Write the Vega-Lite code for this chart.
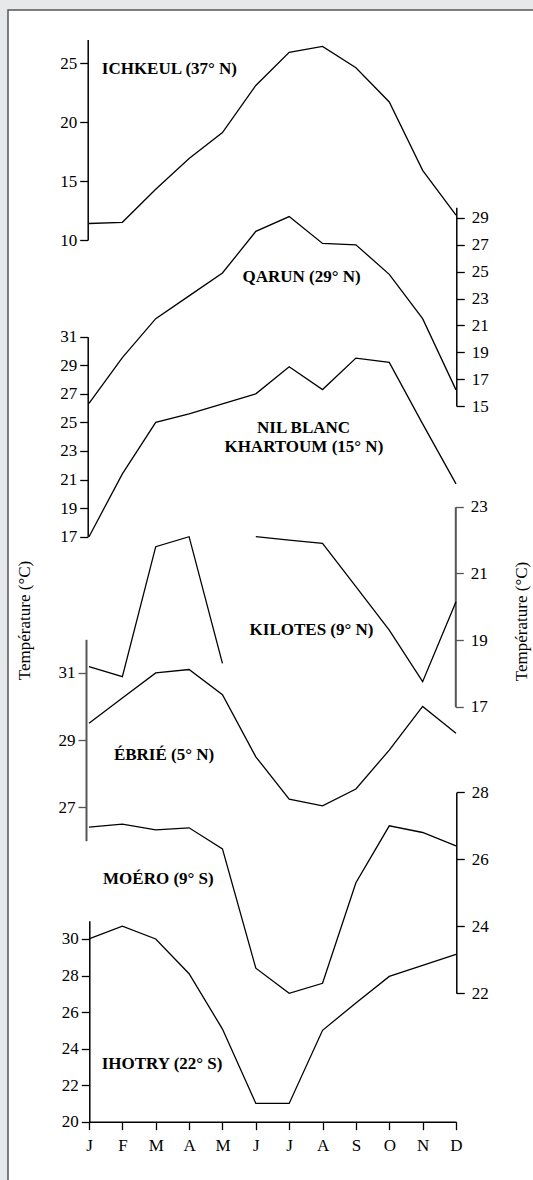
{
  "$schema": "https://vega.github.io/schema/vega-lite/v6.json",
  "width": 535,
  "height": 1180,
  "autosize": {"type": "none"},
  "padding": {"left": 8, "top": 10, "right": -10, "bottom": -10},
  "background": "#e7e8ea",
  "config": {
    "view": {"fill": "white", "stroke": "#555555", "strokeWidth": 1.5},
    "axis": {
      "labelFont": "Liberation Serif",
      "labelFontSize": 17,
      "labelColor": "black",
      "domainColor": "black",
      "tickColor": "black",
      "domainWidth": 1.5,
      "tickWidth": 1.3,
      "tickSize": 8,
      "grid": false,
      "labelPadding": 3,
      "labelOverlap": false,
      "labelFlush": false,
      "labelBound": false,
      "titleFont": "Liberation Serif",
      "titleFontSize": 17,
      "titleFontWeight": "normal",
      "titleColor": "black"
    },
    "text": {"font": "Liberation Serif", "fontSize": 17, "fontWeight": "bold", "color": "black", "baseline": "middle", "align": "center"},
    "line": {"color": "black", "strokeWidth": 1.3}
  },
  "datasets": {
    "temps": [
      {"station": "ICHKEUL", "seg": "a", "month": 1, "temp": 11.4},
      {"station": "ICHKEUL", "seg": "a", "month": 2, "temp": 11.5},
      {"station": "ICHKEUL", "seg": "a", "month": 3, "temp": 14.3},
      {"station": "ICHKEUL", "seg": "a", "month": 4, "temp": 16.9},
      {"station": "ICHKEUL", "seg": "a", "month": 5, "temp": 19.1},
      {"station": "ICHKEUL", "seg": "a", "month": 6, "temp": 23.1},
      {"station": "ICHKEUL", "seg": "a", "month": 7, "temp": 25.9},
      {"station": "ICHKEUL", "seg": "a", "month": 8, "temp": 26.4},
      {"station": "ICHKEUL", "seg": "a", "month": 9, "temp": 24.6},
      {"station": "ICHKEUL", "seg": "a", "month": 10, "temp": 21.7},
      {"station": "ICHKEUL", "seg": "a", "month": 11, "temp": 15.9},
      {"station": "ICHKEUL", "seg": "a", "month": 12, "temp": 12.1},
      {"station": "QARUN", "seg": "a", "month": 1, "temp": 15.2},
      {"station": "QARUN", "seg": "a", "month": 2, "temp": 18.6},
      {"station": "QARUN", "seg": "a", "month": 3, "temp": 21.5},
      {"station": "QARUN", "seg": "a", "month": 4, "temp": 23.2},
      {"station": "QARUN", "seg": "a", "month": 5, "temp": 24.9},
      {"station": "QARUN", "seg": "a", "month": 6, "temp": 28.0},
      {"station": "QARUN", "seg": "a", "month": 7, "temp": 29.1},
      {"station": "QARUN", "seg": "a", "month": 8, "temp": 27.1},
      {"station": "QARUN", "seg": "a", "month": 9, "temp": 27.0},
      {"station": "QARUN", "seg": "a", "month": 10, "temp": 24.8},
      {"station": "QARUN", "seg": "a", "month": 11, "temp": 21.5},
      {"station": "QARUN", "seg": "a", "month": 12, "temp": 16.2},
      {"station": "NIL", "seg": "a", "month": 1, "temp": 17.0},
      {"station": "NIL", "seg": "a", "month": 2, "temp": 21.4},
      {"station": "NIL", "seg": "a", "month": 3, "temp": 25.0},
      {"station": "NIL", "seg": "a", "month": 4, "temp": 25.6},
      {"station": "NIL", "seg": "a", "month": 5, "temp": 26.3},
      {"station": "NIL", "seg": "a", "month": 6, "temp": 27.0},
      {"station": "NIL", "seg": "a", "month": 7, "temp": 28.9},
      {"station": "NIL", "seg": "a", "month": 8, "temp": 27.3},
      {"station": "NIL", "seg": "a", "month": 9, "temp": 29.5},
      {"station": "NIL", "seg": "a", "month": 10, "temp": 29.2},
      {"station": "NIL", "seg": "a", "month": 11, "temp": 24.9},
      {"station": "NIL", "seg": "a", "month": 12, "temp": 20.7},
      {"station": "KILOTES", "seg": "a", "month": 1, "temp": 18.2},
      {"station": "KILOTES", "seg": "a", "month": 2, "temp": 17.9},
      {"station": "KILOTES", "seg": "a", "month": 3, "temp": 21.8},
      {"station": "KILOTES", "seg": "a", "month": 4, "temp": 22.1},
      {"station": "KILOTES", "seg": "a", "month": 5, "temp": 18.3},
      {"station": "KILOTES", "seg": "b", "month": 6, "temp": 22.1},
      {"station": "KILOTES", "seg": "b", "month": 7, "temp": 22.0},
      {"station": "KILOTES", "seg": "b", "month": 8, "temp": 21.9},
      {"station": "KILOTES", "seg": "b", "month": 9, "temp": 20.6},
      {"station": "KILOTES", "seg": "b", "month": 10, "temp": 19.3},
      {"station": "KILOTES", "seg": "b", "month": 11, "temp": 17.75},
      {"station": "KILOTES", "seg": "b", "month": 12, "temp": 20.15},
      {"station": "EBRIE", "seg": "a", "month": 1, "temp": 29.5},
      {"station": "EBRIE", "seg": "a", "month": 2, "temp": 30.25},
      {"station": "EBRIE", "seg": "a", "month": 3, "temp": 31.0},
      {"station": "EBRIE", "seg": "a", "month": 4, "temp": 31.1},
      {"station": "EBRIE", "seg": "a", "month": 5, "temp": 30.35},
      {"station": "EBRIE", "seg": "a", "month": 6, "temp": 28.5},
      {"station": "EBRIE", "seg": "a", "month": 7, "temp": 27.24},
      {"station": "EBRIE", "seg": "a", "month": 8, "temp": 27.04},
      {"station": "EBRIE", "seg": "a", "month": 9, "temp": 27.54},
      {"station": "EBRIE", "seg": "a", "month": 10, "temp": 28.7},
      {"station": "EBRIE", "seg": "a", "month": 11, "temp": 30.0},
      {"station": "EBRIE", "seg": "a", "month": 12, "temp": 29.2},
      {"station": "MOERO", "seg": "a", "month": 1, "temp": 26.96},
      {"station": "MOERO", "seg": "a", "month": 2, "temp": 27.05},
      {"station": "MOERO", "seg": "a", "month": 3, "temp": 26.88},
      {"station": "MOERO", "seg": "a", "month": 4, "temp": 26.94},
      {"station": "MOERO", "seg": "a", "month": 5, "temp": 26.31},
      {"station": "MOERO", "seg": "a", "month": 6, "temp": 22.75},
      {"station": "MOERO", "seg": "a", "month": 7, "temp": 22.0},
      {"station": "MOERO", "seg": "a", "month": 8, "temp": 22.3},
      {"station": "MOERO", "seg": "a", "month": 9, "temp": 25.3},
      {"station": "MOERO", "seg": "a", "month": 10, "temp": 27.0},
      {"station": "MOERO", "seg": "a", "month": 11, "temp": 26.8},
      {"station": "MOERO", "seg": "a", "month": 12, "temp": 26.4},
      {"station": "IHOTRY", "seg": "a", "month": 1, "temp": 30.0},
      {"station": "IHOTRY", "seg": "a", "month": 2, "temp": 30.7},
      {"station": "IHOTRY", "seg": "a", "month": 3, "temp": 30.0},
      {"station": "IHOTRY", "seg": "a", "month": 4, "temp": 28.1},
      {"station": "IHOTRY", "seg": "a", "month": 5, "temp": 25.07},
      {"station": "IHOTRY", "seg": "a", "month": 6, "temp": 21.0},
      {"station": "IHOTRY", "seg": "a", "month": 7, "temp": 21.0},
      {"station": "IHOTRY", "seg": "a", "month": 8, "temp": 25.0},
      {"station": "IHOTRY", "seg": "a", "month": 9, "temp": 26.5},
      {"station": "IHOTRY", "seg": "a", "month": 10, "temp": 27.95},
      {"station": "IHOTRY", "seg": "a", "month": 11, "temp": 28.55},
      {"station": "IHOTRY", "seg": "a", "month": 12, "temp": 29.16}
    ],
    "labels": [
      {"station": "ICHKEUL", "label": "ICHKEUL (37° N)", "month": 3.41, "temp": 24.45},
      {"station": "QARUN", "label": "QARUN (29° N)", "month": 7.37, "temp": 24.57},
      {"station": "NIL", "label": "NIL BLANC", "month": 7.43, "temp": 24.64},
      {"station": "NIL", "label": "KHARTOUM (15° N)", "month": 7.44, "temp": 23.26},
      {"station": "KILOTES", "label": "KILOTES (9° N)", "month": 7.67, "temp": 19.29},
      {"station": "EBRIE", "label": "ÉBRIÉ (5° N)", "month": 3.25, "temp": 28.56},
      {"station": "MOERO", "label": "MOÉRO (9° S)", "month": 3.08, "temp": 25.4},
      {"station": "IHOTRY", "label": "IHOTRY (22° S)", "month": 3.19, "temp": 23.17}
    ]
  },
  "layer": [
    {
      "data": {"name": "temps"},
      "transform": [{"filter": "datum.station === 'IHOTRY'"}],
      "mark": {"type": "line"},
      "encoding": {
        "x": {"field": "month", "type": "quantitative", "scale": {"domain": [1, 12], "range": [81, 448], "nice": false, "zero": false},
              "axis": {"orient": "bottom", "offset": -68.3, "values": [1, 2, 3, 4, 5, 6, 7, 8, 9, 10, 11, 12], "title": null, "labelPadding": 8,
                       "labelExpr": "['J','F','M','A','M','J','J','A','S','O','N','D'][datum.value - 1]"}},
        "y": {"field": "temp", "type": "quantitative", "scale": {"domain": [20, 31], "range": [1111.7, 910.7], "nice": false, "zero": false},
              "axis": {"orient": "left", "offset": -81.3, "values": [20, 22, 24, 26, 28, 30], "title": null}},
        "detail": {"field": "seg"}
      }
    },
    {
      "data": {"name": "temps"},
      "transform": [{"filter": "datum.station === 'ICHKEUL'"}],
      "mark": {"type": "line"},
      "encoding": {
        "x": {"field": "month", "type": "quantitative", "scale": {"domain": [1, 12], "range": [81, 448], "nice": false, "zero": false}, "axis": null},
        "y": {"field": "temp", "type": "quantitative", "scale": {"domain": [10, 27], "range": [230, 29.4], "nice": false, "zero": false},
              "axis": {"orient": "left", "offset": -79.7, "values": [10, 15, 20, 25], "title": null}},
        "detail": {"field": "seg"}
      }
    },
    {
      "data": {"name": "temps"},
      "transform": [{"filter": "datum.station === 'QARUN'"}],
      "mark": {"type": "line"},
      "encoding": {
        "x": {"field": "month", "type": "quantitative", "scale": {"domain": [1, 12], "range": [81, 448], "nice": false, "zero": false}, "axis": null},
        "y": {"field": "temp", "type": "quantitative", "scale": {"domain": [15, 29.8], "range": [396, 197.2], "nice": false, "zero": false},
              "axis": {"orient": "right", "offset": -86.7, "values": [15, 17, 19, 21, 23, 25, 27, 29], "title": null, "labelPadding": 7}},
        "detail": {"field": "seg"}
      }
    },
    {
      "data": {"name": "temps"},
      "transform": [{"filter": "datum.station === 'NIL'"}],
      "mark": {"type": "line"},
      "encoding": {
        "x": {"field": "month", "type": "quantitative", "scale": {"domain": [1, 12], "range": [81, 448], "nice": false, "zero": false}, "axis": null},
        "y": {"field": "temp", "type": "quantitative", "scale": {"domain": [17, 31], "range": [526.7, 326.7], "nice": false, "zero": false},
              "axis": {"orient": "left", "offset": -79.7, "values": [17, 19, 21, 23, 25, 27, 29, 31], "title": null}},
        "detail": {"field": "seg"}
      }
    },
    {
      "data": {"name": "temps"},
      "transform": [{"filter": "datum.station === 'KILOTES'"}],
      "mark": {"type": "line"},
      "encoding": {
        "x": {"field": "month", "type": "quantitative", "scale": {"domain": [1, 12], "range": [81, 448], "nice": false, "zero": false}, "axis": null},
        "y": {"field": "temp", "type": "quantitative", "scale": {"domain": [17, 23], "range": [696.7, 496.7], "nice": false, "zero": false},
              "axis": {"orient": "right", "offset": -87.7, "values": [17, 19, 21, 23], "labelPadding": 7,
                       "domainColor": "#555555", "tickColor": "#555555", "domainWidth": 2,
                       "title": "Température (°C)", "titleAngle": 270, "titleBaseline": "bottom", "titleAlign": "center", "titleX": 74.7, "titleY": 611}},
        "detail": {"field": "seg"}
      }
    },
    {
      "data": {"name": "temps"},
      "transform": [{"filter": "datum.station === 'EBRIE'"}],
      "mark": {"type": "line"},
      "encoding": {
        "x": {"field": "month", "type": "quantitative", "scale": {"domain": [1, 12], "range": [81, 448], "nice": false, "zero": false}, "axis": null},
        "y": {"field": "temp", "type": "quantitative", "scale": {"domain": [26, 32], "range": [830.7, 629.3], "nice": false, "zero": false},
              "axis": {"orient": "left", "offset": -78, "values": [27, 29, 31],
                       "domainColor": "#555555", "tickColor": "#555555", "domainWidth": 2,
                       "title": "Température (°C)", "titleAngle": 270, "titleBaseline": "bottom", "titleAlign": "center", "titleX": -53, "titleY": 610}},
        "detail": {"field": "seg"}
      }
    },
    {
      "data": {"name": "temps"},
      "transform": [{"filter": "datum.station === 'MOERO'"}],
      "mark": {"type": "line"},
      "encoding": {
        "x": {"field": "month", "type": "quantitative", "scale": {"domain": [1, 12], "range": [81, 448], "nice": false, "zero": false}, "axis": null},
        "y": {"field": "temp", "type": "quantitative", "scale": {"domain": [22, 28], "range": [983.3, 782.3], "nice": false, "zero": false},
              "axis": {"orient": "right", "offset": -86.7, "values": [22, 24, 26, 28], "title": null, "labelPadding": 7}},
        "detail": {"field": "seg"}
      }
    },
    {
      "data": {"name": "labels"},
      "transform": [{"filter": "datum.station === 'ICHKEUL'"}],
      "mark": {"type": "text"},
      "encoding": {
        "x": {"field": "month", "type": "quantitative", "scale": {"domain": [1, 12], "range": [81, 448], "nice": false, "zero": false}, "axis": null},
        "y": {"field": "temp", "type": "quantitative", "scale": {"domain": [10, 27], "range": [230, 29.4], "nice": false, "zero": false}, "axis": null},
        "text": {"field": "label"}
      }
    },
    {
      "data": {"name": "labels"},
      "transform": [{"filter": "datum.station === 'QARUN'"}],
      "mark": {"type": "text"},
      "encoding": {
        "x": {"field": "month", "type": "quantitative", "scale": {"domain": [1, 12], "range": [81, 448], "nice": false, "zero": false}, "axis": null},
        "y": {"field": "temp", "type": "quantitative", "scale": {"domain": [15, 29.8], "range": [396, 197.2], "nice": false, "zero": false}, "axis": null},
        "text": {"field": "label"}
      }
    },
    {
      "data": {"name": "labels"},
      "transform": [{"filter": "datum.station === 'NIL'"}],
      "mark": {"type": "text"},
      "encoding": {
        "x": {"field": "month", "type": "quantitative", "scale": {"domain": [1, 12], "range": [81, 448], "nice": false, "zero": false}, "axis": null},
        "y": {"field": "temp", "type": "quantitative", "scale": {"domain": [17, 31], "range": [526.7, 326.7], "nice": false, "zero": false}, "axis": null},
        "text": {"field": "label"}
      }
    },
    {
      "data": {"name": "labels"},
      "transform": [{"filter": "datum.station === 'KILOTES'"}],
      "mark": {"type": "text"},
      "encoding": {
        "x": {"field": "month", "type": "quantitative", "scale": {"domain": [1, 12], "range": [81, 448], "nice": false, "zero": false}, "axis": null},
        "y": {"field": "temp", "type": "quantitative", "scale": {"domain": [17, 23], "range": [696.7, 496.7], "nice": false, "zero": false}, "axis": null},
        "text": {"field": "label"}
      }
    },
    {
      "data": {"name": "labels"},
      "transform": [{"filter": "datum.station === 'EBRIE'"}],
      "mark": {"type": "text"},
      "encoding": {
        "x": {"field": "month", "type": "quantitative", "scale": {"domain": [1, 12], "range": [81, 448], "nice": false, "zero": false}, "axis": null},
        "y": {"field": "temp", "type": "quantitative", "scale": {"domain": [26, 32], "range": [830.7, 629.3], "nice": false, "zero": false}, "axis": null},
        "text": {"field": "label"}
      }
    },
    {
      "data": {"name": "labels"},
      "transform": [{"filter": "datum.station === 'MOERO'"}],
      "mark": {"type": "text"},
      "encoding": {
        "x": {"field": "month", "type": "quantitative", "scale": {"domain": [1, 12], "range": [81, 448], "nice": false, "zero": false}, "axis": null},
        "y": {"field": "temp", "type": "quantitative", "scale": {"domain": [22, 28], "range": [983.3, 782.3], "nice": false, "zero": false}, "axis": null},
        "text": {"field": "label"}
      }
    },
    {
      "data": {"name": "labels"},
      "transform": [{"filter": "datum.station === 'IHOTRY'"}],
      "mark": {"type": "text"},
      "encoding": {
        "x": {"field": "month", "type": "quantitative", "scale": {"domain": [1, 12], "range": [81, 448], "nice": false, "zero": false}, "axis": null},
        "y": {"field": "temp", "type": "quantitative", "scale": {"domain": [20, 31], "range": [1111.7, 910.7], "nice": false, "zero": false}, "axis": null},
        "text": {"field": "label"}
      }
    }
  ],
  "resolve": {"scale": {"x": "independent", "y": "independent"}, "axis": {"x": "independent", "y": "independent"}}
}
